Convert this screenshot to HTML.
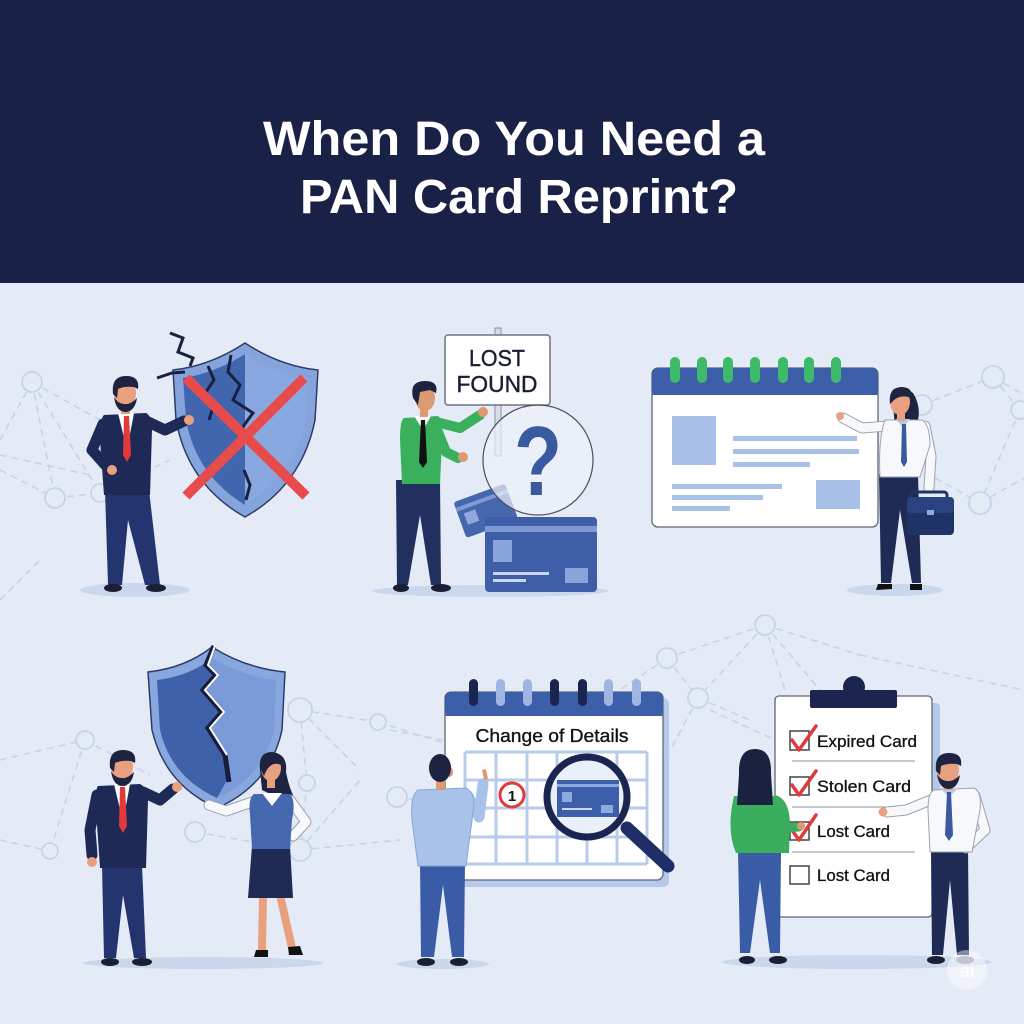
<!DOCTYPE html>
<html><head><meta charset="utf-8"><style>
html,body{margin:0;padding:0;background:#e4ebf6;}
svg{display:block;}
text{font-family:"Liberation Sans",sans-serif;}
</style></head><body>
<svg width="1024" height="1024" viewBox="0 0 1024 1024" xmlns="http://www.w3.org/2000/svg">
<rect x="0" y="0" width="1024" height="1024" fill="#e4ebf6"/>
<!-- header -->
<rect x="0" y="0" width="1024" height="283" fill="#1a2146"/>
<text x="514" y="155" font-size="48" font-weight="bold" fill="#fff" text-anchor="middle" textLength="502" lengthAdjust="spacingAndGlyphs">When Do You Need a</text>
<text x="519" y="213" font-size="48" font-weight="bold" fill="#fff" text-anchor="middle" textLength="438" lengthAdjust="spacingAndGlyphs">PAN Card Reprint?</text>

<!-- network lines -->
<g stroke="#c6d4ea" stroke-width="1.6" fill="none" stroke-dasharray="7 5">
<line x1="0" y1="440" x2="32" y2="382"/><line x1="32" y1="382" x2="55" y2="498"/><line x1="32" y1="382" x2="100" y2="493"/>
<line x1="32" y1="382" x2="100" y2="420"/><line x1="0" y1="470" x2="55" y2="498"/><line x1="55" y1="498" x2="100" y2="493"/>
<line x1="0" y1="455" x2="90" y2="475"/><line x1="100" y1="493" x2="170" y2="460"/>
<line x1="922" y1="405" x2="993" y2="377"/><line x1="993" y1="377" x2="1024" y2="395"/><line x1="993" y1="377" x2="1020" y2="410"/>
<line x1="1020" y1="410" x2="980" y2="503"/><line x1="980" y1="503" x2="1024" y2="478"/><line x1="935" y1="478" x2="980" y2="503"/>
<line x1="85" y1="740" x2="50" y2="851"/><line x1="85" y1="740" x2="150" y2="775"/><line x1="0" y1="760" x2="85" y2="740"/>
<line x1="300" y1="710" x2="378" y2="722"/><line x1="300" y1="710" x2="307" y2="783"/><line x1="300" y1="710" x2="360" y2="770"/>
<line x1="378" y1="722" x2="450" y2="745"/><line x1="195" y1="832" x2="300" y2="850"/><line x1="300" y1="850" x2="400" y2="840"/>
<line x1="0" y1="840" x2="50" y2="851"/><line x1="307" y1="783" x2="300" y2="850"/><line x1="300" y1="850" x2="360" y2="780"/>
<line x1="765" y1="625" x2="667" y2="658"/><line x1="765" y1="625" x2="698" y2="698"/><line x1="765" y1="625" x2="820" y2="690"/>
<line x1="765" y1="625" x2="785" y2="690"/><line x1="667" y1="658" x2="620" y2="690"/><line x1="698" y1="698" x2="750" y2="720"/>
<line x1="698" y1="698" x2="665" y2="760"/><line x1="667" y1="658" x2="698" y2="698"/><line x1="765" y1="625" x2="860" y2="655"/>
<line x1="390" y1="730" x2="443" y2="740"/><line x1="397" y1="797" x2="440" y2="805"/><line x1="710" y1="710" x2="775" y2="740"/>
<line x1="860" y1="655" x2="1024" y2="690"/><line x1="0" y1="600" x2="40" y2="560"/>
</g>
<g stroke="#c6d4ea" stroke-width="1.8" fill="#e4ebf6">
<circle cx="32" cy="382" r="10"/><circle cx="55" cy="498" r="10"/><circle cx="100" cy="493" r="9"/>
<circle cx="993" cy="377" r="11"/><circle cx="922" cy="405" r="10"/><circle cx="1020" cy="410" r="9"/><circle cx="980" cy="503" r="11"/>
<circle cx="85" cy="740" r="9"/><circle cx="50" cy="851" r="8"/><circle cx="300" cy="710" r="12"/><circle cx="378" cy="722" r="8"/>
<circle cx="195" cy="832" r="10"/><circle cx="300" cy="850" r="11"/><circle cx="307" cy="783" r="8"/>
<circle cx="765" cy="625" r="10"/><circle cx="667" cy="658" r="10"/><circle cx="698" cy="698" r="10"/><circle cx="397" cy="797" r="10"/>
</g>

<!-- ========== PANEL 1 ========== -->
<ellipse cx="135" cy="590" rx="55" ry="7" fill="#cad7ec"/>
<!-- shield -->
<path d="M173,370 Q210,366 245,343 Q280,366 318,370 L315,420 Q302,485 245,517 Q188,485 176,420 Z" fill="#86a4dc" stroke="#2c3c6a" stroke-width="1.5"/>
<path d="M183,378 Q215,373 245,354 Q275,373 308,378 L306,420 Q294,475 245,505 Q196,475 186,420 Z" fill="#8aa8e0"/>
<path d="M183,378 Q215,373 245,354 L245,505 Q196,475 186,420 Z" fill="#4266ae"/>
<g stroke="#1a2040" stroke-width="3" fill="none" stroke-linejoin="miter">
<polyline points="170,333 183,338 178,352 193,358 190,366"/>
<polyline points="157,378 172,373 185,372"/>
<polyline points="208,366 214,380 206,392 214,404 209,420"/>
<polyline points="231,355 228,372 240,385 233,400 253,413 242,428 250,445"/>
<polyline points="244,470 250,485 246,500"/>
</g>
<line x1="186" y1="378" x2="306" y2="496" stroke="#e84b4b" stroke-width="10"/>
<line x1="304" y1="378" x2="186" y2="496" stroke="#e84b4b" stroke-width="10"/>
<!-- man 1 -->
<polygon points="105,490 149,490 160,585 145,585 128,520 122,585 108,585" fill="#23346e"/>
<ellipse cx="113" cy="588" rx="9" ry="4" fill="#1a1f33"/><ellipse cx="156" cy="588" rx="10" ry="4" fill="#1a1f33"/>
<polyline points="146,421 165,430 184,421" fill="none" stroke="#1e2a55" stroke-width="11" stroke-linecap="round" stroke-linejoin="round"/>
<circle cx="189" cy="420" r="5" fill="#e8a07e"/>
<path d="M104,415 L146,413 Q152,416 152,430 L150,495 L104,495 L100,440 Q100,418 104,415 Z" fill="#1e2a55"/>
<polyline points="103,424 92,450 108,468" fill="none" stroke="#1e2a55" stroke-width="11" stroke-linecap="round" stroke-linejoin="round"/>
<circle cx="112" cy="470" r="5" fill="#e8a07e"/>
<polygon points="118,413 134,413 127,450" fill="#fff"/>
<polygon points="124,416 129,416 131,455 127,462 123,455" fill="#e03a3a"/>
<rect x="121" y="402" width="9" height="12" fill="#e8a07e"/>
<ellipse cx="125" cy="393" rx="11" ry="14" fill="#e8a07e"/>
<path d="M113,394 Q111,376 126,376 Q140,376 138,389 L134,387 Q124,386 118,389 L117,398 Z" fill="#1d2340"/>
<path d="M114,397 Q116,412 126,412 Q135,411 137,398 Q130,405 125,404 Q118,404 114,397 Z" fill="#1d2340"/>

<!-- ========== PANEL 2 ========== -->
<ellipse cx="490" cy="591" rx="118" ry="6" fill="#cad7ec"/>
<rect x="495" y="328" width="6" height="128" fill="#d8dce4" stroke="#8b909c" stroke-width="1"/>
<rect x="445" y="335" width="105" height="70" rx="3" fill="#fff" stroke="#6f7480" stroke-width="1.5"/>
<text x="497" y="366" font-size="23" fill="#1a1f33" text-anchor="middle" textLength="56" lengthAdjust="spacingAndGlyphs" stroke="#1a1f33" stroke-width="0.4">LOST</text>
<text x="497" y="392" font-size="23" fill="#1a1f33" text-anchor="middle" textLength="81" lengthAdjust="spacingAndGlyphs" stroke="#1a1f33" stroke-width="0.4">FOUND</text>
<g transform="rotate(-20 485 510)">
<rect x="458" y="492" width="55" height="38" rx="3" fill="#4767ad"/>
<rect x="458" y="498" width="55" height="4" fill="#7f9ad6"/>
<rect x="464" y="506" width="12" height="12" fill="#8fa9de"/>
</g>
<circle cx="538" cy="460" r="55" fill="#eef2fa" fill-opacity="0.7" stroke="#4b4f5a" stroke-width="1.2"/>
<text x="538" y="495" font-size="98" font-weight="bold" fill="#3a5aa0" text-anchor="middle" textLength="48" lengthAdjust="spacingAndGlyphs">?</text>
<rect x="485" y="517" width="112" height="75" rx="4" fill="#3e5ea8"/>
<rect x="485" y="526" width="112" height="6" fill="#7d98d4"/>
<rect x="493" y="540" width="19" height="22" fill="#8aa5dc"/>
<rect x="493" y="572" width="56" height="3" fill="#c8d6f0"/>
<rect x="493" y="579" width="33" height="3" fill="#c8d6f0"/>
<rect x="565" y="568" width="23" height="15" fill="#8aa5dc"/>
<!-- man 2 -->
<polygon points="396,480 440,480 441,585 431,585 420,515 408,585 397,585" fill="#22305f"/>
<ellipse cx="401" cy="588" rx="8" ry="4" fill="#1a1f33"/><ellipse cx="441" cy="588" rx="10" ry="4" fill="#1a1f33"/>
<path d="M404,418 L438,416 Q444,420 442,440 L440,484 L402,484 L400,440 Q400,420 404,418 Z" fill="#3bb05c"/>
<polyline points="436,422 460,428 480,415" fill="none" stroke="#3bb05c" stroke-width="10" stroke-linecap="round" stroke-linejoin="round"/>
<circle cx="483" cy="412" r="5" fill="#dd9a72"/>
<polyline points="438,432 446,452 458,458" fill="none" stroke="#3bb05c" stroke-width="10" stroke-linecap="round" stroke-linejoin="round"/>
<circle cx="463" cy="457" r="5" fill="#dd9a72"/>
<polygon points="414,416 431,416 423,430" fill="#fff"/>
<polygon points="421,420 425,420 427,462 423,468 419,462" fill="#111"/>
<rect x="420" y="404" width="8" height="13" fill="#dd9a72"/>
<ellipse cx="425" cy="398" rx="10" ry="13" fill="#dd9a72"/>
<path d="M413,398 Q409,381 425,381 Q439,381 436,393 L430,390 L420,392 L418,405 Z" fill="#1d2340"/>

<!-- ========== PANEL 3 ========== -->
<ellipse cx="895" cy="590" rx="48" ry="6" fill="#cad7ec"/>
<rect x="652" y="368" width="226" height="159" rx="6" fill="#fff" stroke="#5f6673" stroke-width="1.3"/>
<rect x="652" y="368" width="226" height="27" rx="6" fill="#3d5ea8"/>
<rect x="652.6" y="382" width="224.8" height="13" fill="#3d5ea8"/>
<g fill="#3dba6a">
<rect x="670" y="357" width="10" height="26" rx="5"/><rect x="697" y="357" width="10" height="26" rx="5"/>
<rect x="723" y="357" width="10" height="26" rx="5"/><rect x="750" y="357" width="10" height="26" rx="5"/>
<rect x="778" y="357" width="10" height="26" rx="5"/><rect x="804" y="357" width="10" height="26" rx="5"/>
<rect x="831" y="357" width="10" height="26" rx="5"/>
</g>
<g fill="#a9c0e8">
<rect x="672" y="416" width="44" height="49"/>
<rect x="733" y="436" width="124" height="5"/><rect x="733" y="449" width="126" height="5"/><rect x="733" y="462" width="77" height="5"/>
<rect x="672" y="484" width="110" height="5"/><rect x="672" y="495" width="91" height="5"/><rect x="672" y="506" width="58" height="5"/>
<rect x="816" y="480" width="44" height="29"/>
</g>
<!-- woman 3 -->
<path d="M892,392 Q900,384 913,393 Q921,406 918,420 Q927,430 923,440 L912,432 L895,428 Z" fill="#1d2340"/>
<polygon points="879,474 918,474 921,583 912,583 900,510 891,583 881,583" fill="#1f2a55"/>
<path d="M878,584 L892,584 L892,589 L876,590 Z M910,584 L922,584 L922,590 L910,590 Z" fill="#111"/>
<polyline points="888,426 862,428 843,418" fill="none" stroke="#9aa3b3" stroke-width="11" stroke-linecap="round" stroke-linejoin="round"/>
<polyline points="888,426 862,428 843,418" fill="none" stroke="#f7f8fb" stroke-width="9" stroke-linecap="round" stroke-linejoin="round"/>
<circle cx="840" cy="416" r="4" fill="#e8a07e"/>
<polyline points="925,426 931,456 929,488" fill="none" stroke="#9aa3b3" stroke-width="11" stroke-linecap="round" stroke-linejoin="round"/>
<polyline points="925,426 931,456 929,488" fill="none" stroke="#f7f8fb" stroke-width="9" stroke-linecap="round" stroke-linejoin="round"/>
<path d="M885,420 L922,420 Q930,425 930,445 L920,477 L880,477 Q878,440 885,420 Z" fill="#f7f8fb" stroke="#9aa3b3" stroke-width="1"/>
<polygon points="896,419 910,419 903,428" fill="#b8c8ea"/>
<polygon points="902,424 906,424 907,462 904,467 901,462" fill="#3a5aa0"/>
<rect x="897" y="410" width="8" height="11" fill="#e8a07e"/>
<ellipse cx="900" cy="402" rx="10" ry="13" fill="#e8a07e"/>
<path d="M890,404 Q888,387 902,387 Q914,388 911,398 Q902,394 894,400 Z" fill="#1d2340"/>
<rect x="911" y="492" width="36" height="8" rx="3" fill="none" stroke="#1f3366" stroke-width="3"/>
<rect x="907" y="497" width="47" height="38" rx="4" fill="#1f3366"/>
<rect x="907" y="497" width="47" height="16" rx="4" fill="#2a4280"/>
<rect x="927" y="510" width="7" height="5" fill="#8fa9de"/>

<!-- ========== PANEL 4 ========== -->
<ellipse cx="203" cy="963" rx="120" ry="6" fill="#cad7ec"/>
<path d="M148,672 Q185,668 212,647 Q245,668 285,672 L282,730 Q270,785 217,808 Q165,785 152,730 Z" fill="#88a7de" stroke="#2c3c6a" stroke-width="1.5"/>
<path d="M157,680 Q190,676 212,658 Q242,676 276,680 L274,730 Q263,777 217,798 Q171,777 160,730 Z" fill="#7a9bd8"/>
<path d="M157,680 Q190,676 212,658 L206,665 L216,675 L203,690 L222,712 L208,728 L225,755 L227,780 L217,798 Q171,777 160,730 Z" fill="#3e61aa"/>
<polyline points="214,646 206,665 216,675 203,690 222,712 208,728 225,755 229,782" fill="none" stroke="#161c3a" stroke-width="5"/>
<polyline points="215,646 208,665 218,675 205,690 224,712 210,728 227,755" fill="none" stroke="#fff" stroke-width="2"/>
<!-- man 4 -->
<polygon points="102,865 142,865 146,958 134,958 123,895 116,958 104,958" fill="#23346e"/>
<ellipse cx="110" cy="962" rx="9" ry="4" fill="#1a1f33"/><ellipse cx="142" cy="962" rx="10" ry="4" fill="#1a1f33"/>
<polyline points="143,792 160,800 173,789" fill="none" stroke="#1e2a55" stroke-width="11" stroke-linecap="round" stroke-linejoin="round"/>
<circle cx="177" cy="787" r="5" fill="#e8a07e"/>
<path d="M98,786 L140,784 Q148,788 148,800 L146,868 L100,868 L96,810 Q95,790 98,786 Z" fill="#1e2a55"/>
<polyline points="97,795 90,830 92,855" fill="none" stroke="#1e2a55" stroke-width="11" stroke-linecap="round" stroke-linejoin="round"/>
<circle cx="92" cy="862" r="5" fill="#e8a07e"/>
<polygon points="114,784 130,784 123,822" fill="#fff"/>
<polygon points="120,787 125,787 127,826 123,833 119,826" fill="#e03a3a"/>
<rect x="118" y="775" width="9" height="11" fill="#e8a07e"/>
<ellipse cx="122" cy="767" rx="11" ry="14" fill="#e8a07e"/>
<path d="M110,768 Q108,750 123,750 Q137,750 135,763 L131,761 Q121,760 115,763 L114,772 Z" fill="#1d2340"/>
<path d="M111,771 Q113,786 123,786 Q132,785 134,772 Q127,779 122,778 Q115,778 111,771 Z" fill="#1d2340"/>
<!-- woman 4 -->
<path d="M260,770 Q258,752 272,752 Q288,754 286,772 Q290,792 296,800 L282,800 L262,790 Z" fill="#1d2340"/>
<line x1="263" y1="895" x2="262" y2="950" stroke="#e8a07e" stroke-width="8"/>
<line x1="280" y1="895" x2="292" y2="948" stroke="#e8a07e" stroke-width="8"/>
<path d="M256,950 L268,950 L268,957 L254,957 Z M288,947 L300,946 L303,955 L289,955 Z" fill="#111"/>
<path d="M252,846 L290,846 L293,898 L248,898 Z" fill="#1f2a55"/>
<polyline points="258,800 226,811 209,805" fill="none" stroke="#9aa3b3" stroke-width="11" stroke-linecap="round" stroke-linejoin="round"/>
<polyline points="258,800 226,811 209,805" fill="none" stroke="#f7f8fb" stroke-width="9" stroke-linecap="round" stroke-linejoin="round"/>
<polyline points="290,800 306,822 293,836" fill="none" stroke="#9aa3b3" stroke-width="11" stroke-linecap="round" stroke-linejoin="round"/>
<polyline points="290,800 306,822 293,836" fill="none" stroke="#f7f8fb" stroke-width="9" stroke-linecap="round" stroke-linejoin="round"/>
<path d="M254,794 L290,794 Q296,800 292,820 L290,849 L252,849 L250,815 Q248,798 254,794 Z" fill="#4467ae"/>
<polygon points="262,793 282,793 272,806" fill="#fff"/>
<rect x="267" y="776" width="8" height="12" fill="#e8a07e"/>
<ellipse cx="271" cy="768" rx="10" ry="13" fill="#e8a07e"/>
<path d="M261,770 Q258,754 272,754 Q284,755 281,765 Q270,760 264,776 Z" fill="#1d2340"/>

<!-- ========== PANEL 5 ========== -->
<ellipse cx="443" cy="964" rx="46" ry="5" fill="#cad7ec"/>
<rect x="451" y="698" width="218" height="189" rx="6" fill="#b7c9ea"/>
<rect x="445" y="692" width="218" height="188" rx="6" fill="#fff" stroke="#5f6673" stroke-width="1.3"/>
<rect x="445" y="692" width="218" height="24" rx="6" fill="#3d5ea8"/>
<rect x="445.6" y="704" width="216.8" height="12" fill="#3d5ea8"/>
<g>
<rect x="469" y="679" width="9" height="27" rx="4.5" fill="#1b2550"/>
<rect x="496" y="679" width="9" height="27" rx="4.5" fill="#9fb6e2"/>
<rect x="523" y="679" width="9" height="27" rx="4.5" fill="#9fb6e2"/>
<rect x="550" y="679" width="9" height="27" rx="4.5" fill="#1b2550"/>
<rect x="578" y="679" width="9" height="27" rx="4.5" fill="#1b2550"/>
<rect x="604" y="679" width="9" height="27" rx="4.5" fill="#9fb6e2"/>
<rect x="632" y="679" width="9" height="27" rx="4.5" fill="#9fb6e2"/>
</g>
<text x="552" y="742" font-size="18" fill="#111" text-anchor="middle" textLength="153" lengthAdjust="spacingAndGlyphs" stroke="#111" stroke-width="0.35">Change of Details</text>
<g stroke="#b9cbeb" stroke-width="3">
<line x1="465" y1="752" x2="465" y2="864"/><line x1="496" y1="752" x2="496" y2="864"/><line x1="527" y1="752" x2="527" y2="864"/>
<line x1="557" y1="752" x2="557" y2="864"/><line x1="587" y1="752" x2="587" y2="864"/><line x1="617" y1="752" x2="617" y2="864"/>
<line x1="647" y1="752" x2="647" y2="864"/>
<line x1="465" y1="752" x2="647" y2="752"/><line x1="465" y1="780" x2="647" y2="780"/><line x1="465" y1="808" x2="647" y2="808"/>
<line x1="465" y1="837" x2="647" y2="837"/><line x1="465" y1="864" x2="647" y2="864"/>
</g>
<circle cx="512" cy="795" r="12" fill="#fff" stroke="#e03a3a" stroke-width="3"/>
<text x="512" y="801" font-size="15" font-weight="bold" fill="#111" text-anchor="middle">1</text>
<line x1="627" y1="828" x2="668" y2="866" stroke="#1f2e66" stroke-width="13" stroke-linecap="round"/>
<circle cx="587" cy="797" r="40" fill="#eaf0fa" stroke="#1b2550" stroke-width="7"/>
<rect x="557" y="780" width="62" height="37" fill="#3d5ea8"/>
<rect x="557" y="784" width="62" height="3" fill="#8fa9de"/>
<rect x="562" y="792" width="10" height="10" fill="#8fa9de"/>
<rect x="562" y="808" width="30" height="2" fill="#c8d6f0"/>
<rect x="601" y="805" width="12" height="8" fill="#8fa9de"/>
<!-- man 5 -->
<polygon points="420,862 465,862 464,957 452,957 443,885 434,957 421,957" fill="#3a5ca6"/>
<ellipse cx="426" cy="962" rx="9" ry="4" fill="#1a1f33"/><ellipse cx="459" cy="962" rx="9" ry="4" fill="#1a1f33"/>
<polyline points="468,796 479,817 483,784" fill="none" stroke="#a8c2ea" stroke-width="11" stroke-linecap="round" stroke-linejoin="round"/>
<path d="M484,780 L482,770 L486,769 L488,779 Z" fill="#dd9a72"/>
<path d="M418,790 L466,788 Q474,792 474,805 L466,866 L418,866 L412,820 Q410,795 418,790 Z" fill="#a8c2ea" stroke="#8aa5d6" stroke-width="1"/>
<rect x="436" y="776" width="9" height="14" fill="#dd9a72"/>
<ellipse cx="450" cy="772" rx="3" ry="5" fill="#dd9a72"/>
<ellipse cx="440" cy="768" rx="11" ry="14" fill="#1d2340"/>

<!-- ========== PANEL 6 ========== -->
<ellipse cx="857" cy="962" rx="135" ry="7" fill="#cad7ec"/>
<rect x="784" y="703" width="156" height="214" rx="4" fill="#b5c8ea"/>
<rect x="775" y="696" width="157" height="221" rx="4" fill="#fff" stroke="#5f6673" stroke-width="1.3"/>
<circle cx="854" cy="687" r="11" fill="#1b2550"/>
<rect x="810" y="690" width="87" height="18" rx="2" fill="#1b2550"/>
<g stroke="#8c93a3" stroke-width="1">
<line x1="792" y1="761" x2="915" y2="761"/><line x1="792" y1="807" x2="915" y2="807"/><line x1="792" y1="852" x2="915" y2="852"/>
</g>
<g fill="#fff" stroke="#444" stroke-width="1.5">
<rect x="790" y="731" width="19" height="19"/><rect x="790" y="777" width="19" height="18"/>
<rect x="790" y="822" width="19" height="18"/><rect x="790" y="866" width="19" height="18"/>
</g>
<g font-size="16.5" fill="#111" stroke="#111" stroke-width="0.3">
<text x="817" y="747" textLength="100" lengthAdjust="spacingAndGlyphs">Expired Card</text>
<text x="817" y="792" textLength="94" lengthAdjust="spacingAndGlyphs">Stolen Card</text>
<text x="817" y="837" textLength="73" lengthAdjust="spacingAndGlyphs">Lost Card</text>
<text x="817" y="881" textLength="73" lengthAdjust="spacingAndGlyphs">Lost Card</text>
</g>
<g fill="none" stroke="#e03a3a" stroke-width="3.5" stroke-linecap="round" stroke-linejoin="round">
<polyline points="792,740 799,750 816,726"/><polyline points="792,785 799,795 816,771"/><polyline points="792,830 799,840 816,815"/>
</g>
<!-- woman 6 -->
<polygon points="738,850 781,850 780,953 770,953 760,880 750,953 740,953" fill="#3a5ca6"/>
<ellipse cx="747" cy="960" rx="8" ry="4" fill="#1a1f33"/><ellipse cx="778" cy="960" rx="9" ry="4" fill="#1a1f33"/>
<polyline points="776,800 786,828 799,827" fill="none" stroke="#3bae5e" stroke-width="9" stroke-linecap="round" stroke-linejoin="round"/>
<circle cx="801" cy="826" r="4" fill="#dd9a72"/>
<path d="M734,796 L778,796 Q790,802 790,825 L789,853 L736,853 Q726,830 734,796 Z" fill="#3bae5e"/>
<path d="M739,774 Q738,749 755,749 Q772,749 771,774 L773,805 L737,805 Z" fill="#1b2240"/>
<!-- man 6 -->
<polygon points="931,850 968,850 969,955 957,955 950,880 943,955 932,955" fill="#1f2a55"/>
<ellipse cx="936" cy="960" rx="9" ry="4" fill="#1a1f33"/><ellipse cx="965" cy="960" rx="9" ry="4" fill="#8d96a8"/>
<polyline points="936,798 906,810 887,812" fill="none" stroke="#9aa3b3" stroke-width="11" stroke-linecap="round" stroke-linejoin="round"/>
<polyline points="936,798 906,810 887,812" fill="none" stroke="#f7f8fb" stroke-width="9" stroke-linecap="round" stroke-linejoin="round"/>
<circle cx="883" cy="812" r="4.5" fill="#e8a07e"/>
<polyline points="975,796 985,830 966,848" fill="none" stroke="#9aa3b3" stroke-width="11" stroke-linecap="round" stroke-linejoin="round"/>
<polyline points="975,796 985,830 966,848" fill="none" stroke="#f7f8fb" stroke-width="9" stroke-linecap="round" stroke-linejoin="round"/>
<path d="M934,790 L974,788 Q982,792 980,810 L972,852 L930,852 L928,810 Q928,792 934,790 Z" fill="#f7f8fb" stroke="#9aa3b3" stroke-width="1"/>
<polygon points="940,788 958,788 949,797" fill="#b8c8ea"/>
<polygon points="947,792 951,792 953,835 949,841 945,835" fill="#3a5aa0"/>
<rect x="944" y="778" width="9" height="12" fill="#e8a07e"/>
<ellipse cx="948" cy="770" rx="11" ry="14" fill="#e8a07e"/>
<path d="M936,771 Q934,753 949,753 Q963,753 961,766 L957,764 Q947,763 941,766 L940,775 Z" fill="#1d2340"/>
<path d="M937,774 Q939,789 949,789 Q958,788 960,775 Q953,782 948,781 Q941,781 937,774 Z" fill="#1d2340"/>
<!-- watermark -->
<circle cx="967" cy="970" r="20" fill="#ffffff" fill-opacity="0.45"/>
<text x="967" y="977" font-size="18" fill="#fff" text-anchor="middle">ai</text>
</svg>
</body></html>
